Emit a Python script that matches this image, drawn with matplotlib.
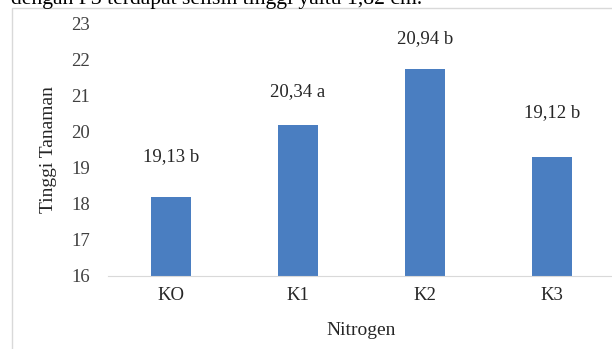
import matplotlib.pyplot as plt
from matplotlib.patches import Rectangle

# Data
categories = ['KO', 'K1', 'K2', 'K3']
heights = [18.2, 20.2, 21.75, 19.3]
labels = ['19,13 b', '20,34 a', '20,94 b', '19,12 b']
label_offsets = [29, 24, 22, 32]  # points above bar top
y_ticks = [16, 17, 18, 19, 20, 21, 22, 23]

plt.rcParams['font.family'] = ['Liberation Serif', 'DejaVu Serif']

W, H = 612, 349
fig = plt.figure(figsize=(W / 100, H / 100), dpi=100, facecolor='white')

# chart frame (cropped on right and bottom)
fig.patches.append(Rectangle((12 / W, -0.1), 1.0, (H - 8) / H + 0.1,
                             transform=fig.transFigure, fill=False,
                             edgecolor='#d9d9d9', linewidth=1.0))

# cut-off line of document text above the chart
fig.text(11 / W, (H - 4) / H, 'dengan P3 terdapat selisih tinggi yaitu 1,82 cm.',
         fontsize=15.6, va='baseline', ha='left', color='black')

ax = fig.add_axes([107.5 / W, 73 / H, 508 / W, 252 / H])
x = range(len(categories))
bars = ax.bar(x, [h - 16 for h in heights], bottom=16, width=0.31, color='#4A7EC1')

for xi, h, lab, off in zip(x, heights, labels, label_offsets):
    ax.annotate(lab, (xi, h), xytext=(0, off), textcoords='offset points',
                ha='center', va='center', fontsize=13.5, color='#262626')

ax.set_xlim(-0.5, 3.5)
ax.set_ylim(16, 23)
ax.set_yticks(y_ticks)
ax.set_xticks(list(x))
ax.set_xticklabels(categories)
ax.tick_params(axis='y', length=0, pad=12.5, labelsize=13.5, labelcolor='#404040')
ax.tick_params(axis='x', length=0, pad=8, labelsize=13.5, labelcolor='#262626')

for s in ['top', 'right', 'left']:
    ax.spines[s].set_visible(False)
ax.spines['bottom'].set_color('#d9d9d9')

ax.set_ylabel('Tinggi Tanaman', fontsize=14, color='#262626', va='center')
ax.yaxis.set_label_coords(-0.117, 0.5)
ax.set_xlabel('Nitrogen', fontsize=14, color='#262626', va='center')
ax.xaxis.set_label_coords(0.5, -0.218)

fig.savefig('out.png', dpi=100, facecolor='white')
